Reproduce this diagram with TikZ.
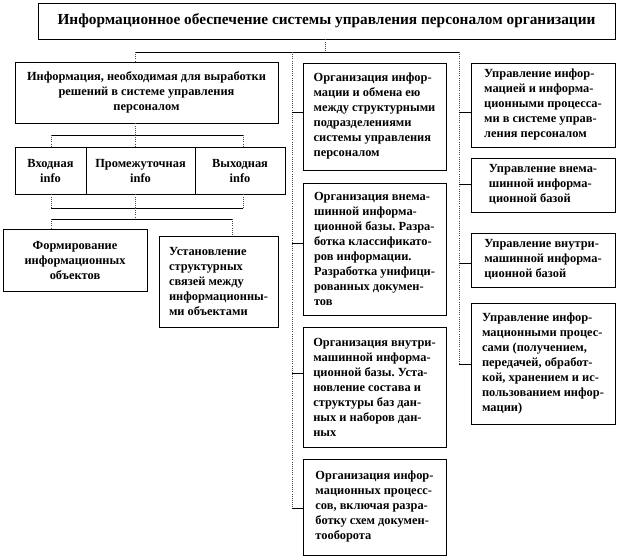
\documentclass[tikz,border=0pt]{standalone}
\usepackage{fontspec}
\setmainfont{Liberation Serif}
\frenchspacing
\begin{document}
\begin{tikzpicture}[x=0.75pt,y=-0.75pt,
  box/.style={draw=black, line width=0.6pt, inner sep=0pt,
    font=\bfseries\fontsize{9.3}{11.25}\selectfont},
  lbox/.style={box, align=left},
  rbox/.style={box, align=left},
  cbox/.style={box, align=center},
  vline/.style={draw=black!70, densely dotted, line width=0.6pt},
  hline/.style={draw=black, line width=0.6pt}]
\useasboundingbox (0,0) rectangle (618,558);

% title
\node[box, font=\bfseries\fontsize{11.5}{14}\selectfont, minimum width=432.75pt, minimum height=27pt]
  (title) at (326.5,21) {Информационное обеспечение системы управления персоналом организации};

% left branch
\node[cbox, minimum width=197.25pt, minimum height=45.75pt] (info) at (146.5,92.5)
  {Информация, необходимая для выработки\\решений в системе управления\\персоналом};
\node[cbox, minimum width=53.25pt, minimum height=35.25pt] (inb) at (50.5,170.5) {Входная\\info};
\node[cbox, minimum width=81.75pt, minimum height=35.25pt] (midb) at (140.5,170.5) {Промежуточная\\info};
\node[cbox, minimum width=67.5pt, minimum height=35.25pt] (outb) at (240,170.5) {Выходная\\info};
\node[cbox, minimum width=108pt, minimum height=46.5pt] (form) at (75,260)
  {Формирование\\информационных\\объектов};
\node[box, align=left, minimum width=89.25pt, minimum height=68.25pt] (ust) at (218.5,281.5)
  {Установление\\структурных\\связей между\\информационны-\\ми объектами};

% middle column
\node[lbox, minimum width=107.25pt, minimum height=80.25pt] (m1) at (374.5,116.5)
  {Организация инфор-\\мации и обмена ею\\между структурными\\подразделениями\\системы управления\\персоналом};
\node[lbox, minimum width=107.25pt, minimum height=99pt] (m2) at (374.5,249)
  {Организация внема-\\шинной информа-\\ционной базы. Разра-\\ботка классификато-\\ров информации.\\Разработка унифици-\\рованных докумен-\\тов};
\node[lbox, minimum width=107.25pt, minimum height=90pt] (m3) at (374.5,387)
  {Организация внутри-\\машинной информа-\\ционной базы. Уста-\\новление состава и\\структуры баз дан-\\ных и наборов дан-\\ных};
\node[lbox, minimum width=107.25pt, minimum height=72pt] (m4) at (374.5,507)
  {Организация инфор-\\мационных процесс-\\сов, включая разра-\\ботку схем докумен-\\тооборота};

% right column
\node[rbox, minimum width=108pt, minimum height=63pt] (r1) at (543,105)
  {Управление инфор-\\мацией и информа-\\ционными процесса-\\ми в системе управ-\\ления персоналом};
\node[rbox, minimum width=108pt, minimum height=40.5pt] (r2) at (543,185)
  {Управление внема-\\шинной информа-\\ционной базой};
\node[rbox, minimum width=108pt, minimum height=40.5pt] (r3) at (543,260)
  {Управление внутри-\\машинной информа-\\ционной базой};
\node[rbox, minimum width=108pt, minimum height=90.75pt] (r4) at (543,363.5)
  {Управление инфор-\\мационными процес-\\сами (получением,\\передачей, обработ-\\кой, хранением и ис-\\пользованием инфор-\\мации)};

% top connectors
\coordinate (j) at (325,52);
\coordinate (hl) at (135,52);
\coordinate (hm) at (292,52);
\coordinate (hr) at (459,52);
\draw[vline] (title.south -| j) -- (j);
\draw[hline] (hl) -- (hr);
\draw[vline] (hl) -- (hl |- info.north);

% middle spine and stubs
\coordinate (ms1) at (292,112);
\coordinate (ms2) at (292,243);
\coordinate (ms3) at (292,373);
\coordinate (ms4) at (292,508);
\draw[vline] (hm) -- (ms4);
\draw[hline] (ms1) -- (ms1 -| m1.west);
\draw[hline] (ms2) -- (ms2 -| m2.west);
\draw[hline] (ms3) -- (ms3 -| m3.west);
\draw[hline] (ms4) -- (ms4 -| m4.west);

% right spine and stubs
\coordinate (rs1) at (459,112);
\coordinate (rs2) at (459,184);
\coordinate (rs3) at (459,263);
\coordinate (rs4) at (459,364);
\draw[vline] (hr) -- (rs4);
\draw[hline] (rs1) -- (rs1 -| r1.west);
\draw[hline] (rs2) -- (rs2 -| r2.west);
\draw[hline] (rs3) -- (rs3 -| r3.west);
\draw[hline] (rs4) -- (rs4 -| r4.west);

% left sub-tree
\coordinate (a0) at (51,135);
\coordinate (a1) at (135,135);
\coordinate (a2) at (243,135);
\draw[vline] (a1 |- info.south) -- (a1);
\draw[hline] (a0) -- (a2);
\draw[vline] (a0) -- (a0 |- inb.north);
\draw[vline] (a1) -- (a1 |- midb.north);
\draw[vline] (a2) -- (a2 |- outb.north);

\coordinate (b0) at (51,208);
\coordinate (b1) at (135,208);
\coordinate (b2) at (243,208);
\draw[vline] (b0 |- inb.south) -- (b0);
\draw[vline] (b1 |- midb.south) -- (b1);
\draw[vline] (b2 |- outb.south) -- (b2);
\draw[hline] (b0) -- (b2);

\coordinate (c0) at (51,219);
\coordinate (c1) at (135,219);
\coordinate (c2) at (232,219);
\draw[vline] (b1) -- (c1);
\draw[hline] (c0) -- (c2);
\draw[vline] (c0) -- (c0 |- form.north);
\draw[vline] (c2) -- (c2 |- ust.north);
\end{tikzpicture}
\end{document}
